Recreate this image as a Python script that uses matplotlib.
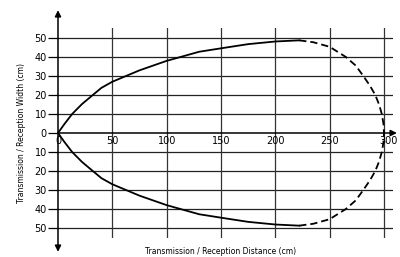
import matplotlib
matplotlib.use("Agg")
import matplotlib.pyplot as plt
import numpy as np

# upper half of the detection area (lower half is a mirror)
dist_solid = [0, 6, 13, 22, 32, 40, 50, 75, 100, 130, 150, 175, 200, 222]
width_solid = [0, 4.8, 10, 15.2, 20, 23.8, 27, 33, 38, 42.8, 44.6, 46.8, 48.2, 48.8]
dist_dash = [222, 235, 250, 265, 274, 281, 287, 292, 295.5, 298, 299.5, 300]
width_dash = [48.8, 47.8, 45.4, 40, 35.5, 30, 25, 20, 15, 10, 5, 0]

x_ticks = [0, 50, 100, 150, 200, 250, 300]
y_ticks = [-50, -40, -30, -20, -10, 0, 10, 20, 30, 40, 50]

fig = plt.figure(figsize=(4, 2.57), dpi=100)
ax = fig.add_axes([58 / 400, 19 / 257, 335 / 400, 210 / 257])
ax.set_xlim(0, 308.3)
ax.set_ylim(-55.3, 55.3)
for s in ax.spines.values():
    s.set_visible(False)

# grid
for yv in y_ticks:
    if yv != 0:
        ax.axhline(yv, color='#222222', lw=0.9, zorder=1)
for xv in x_ticks[1:]:
    ax.axvline(xv, color='#333333', lw=0.9, zorder=1)

# curves
ax.plot(dist_solid, width_solid, color='black', lw=1.3, zorder=3)
ax.plot(dist_solid, [-w for w in width_solid], color='black', lw=1.3, zorder=3)
ax.plot(dist_dash, width_dash, color='black', lw=1.3, ls=(0, (4, 2.2)), zorder=3)
ax.plot(dist_dash, [-w for w in width_dash], color='black', lw=1.3, ls=(0, (4, 2.2)), zorder=3)

# axis arrows
ap = dict(arrowstyle='-|>', lw=1.1, color='black', mutation_scale=9, shrinkA=0, shrinkB=0)
ax.annotate('', xy=(0, 64.7), xytext=(0, 0), arrowprops=ap, annotation_clip=False)
ax.annotate('', xy=(0, -62.6), xytext=(0, 0), arrowprops=ap, annotation_clip=False)
ax.annotate('', xy=(311.9, 0), xytext=(0, 0), arrowprops=ap, annotation_clip=False)

# y ticks
ax.set_yticks(y_ticks)
ax.set_yticklabels([str(abs(v)) for v in y_ticks], fontsize=7)
ax.tick_params(axis='y', length=7, width=0.9, pad=1)
ax.set_xticks([])

# x tick labels sit under the zero line
for xv in x_ticks:
    off = 3.5 if xv == 300 else 0
    ax.annotate(str(xv), xy=(xv, 0), xytext=(off, -2), textcoords='offset points',
                ha='center', va='top', fontsize=7, annotation_clip=False)

fig.text(22 / 400, 1 - 133 / 257, 'Transmission / Reception Width (cm)', rotation=90,
         ha='center', va='center', fontsize=5.5)
fig.text(221 / 400, 1 - 251 / 257, 'Transmission / Reception Distance (cm)',
         ha='center', va='center', fontsize=5.5)

fig.savefig('out.png', dpi=100)
